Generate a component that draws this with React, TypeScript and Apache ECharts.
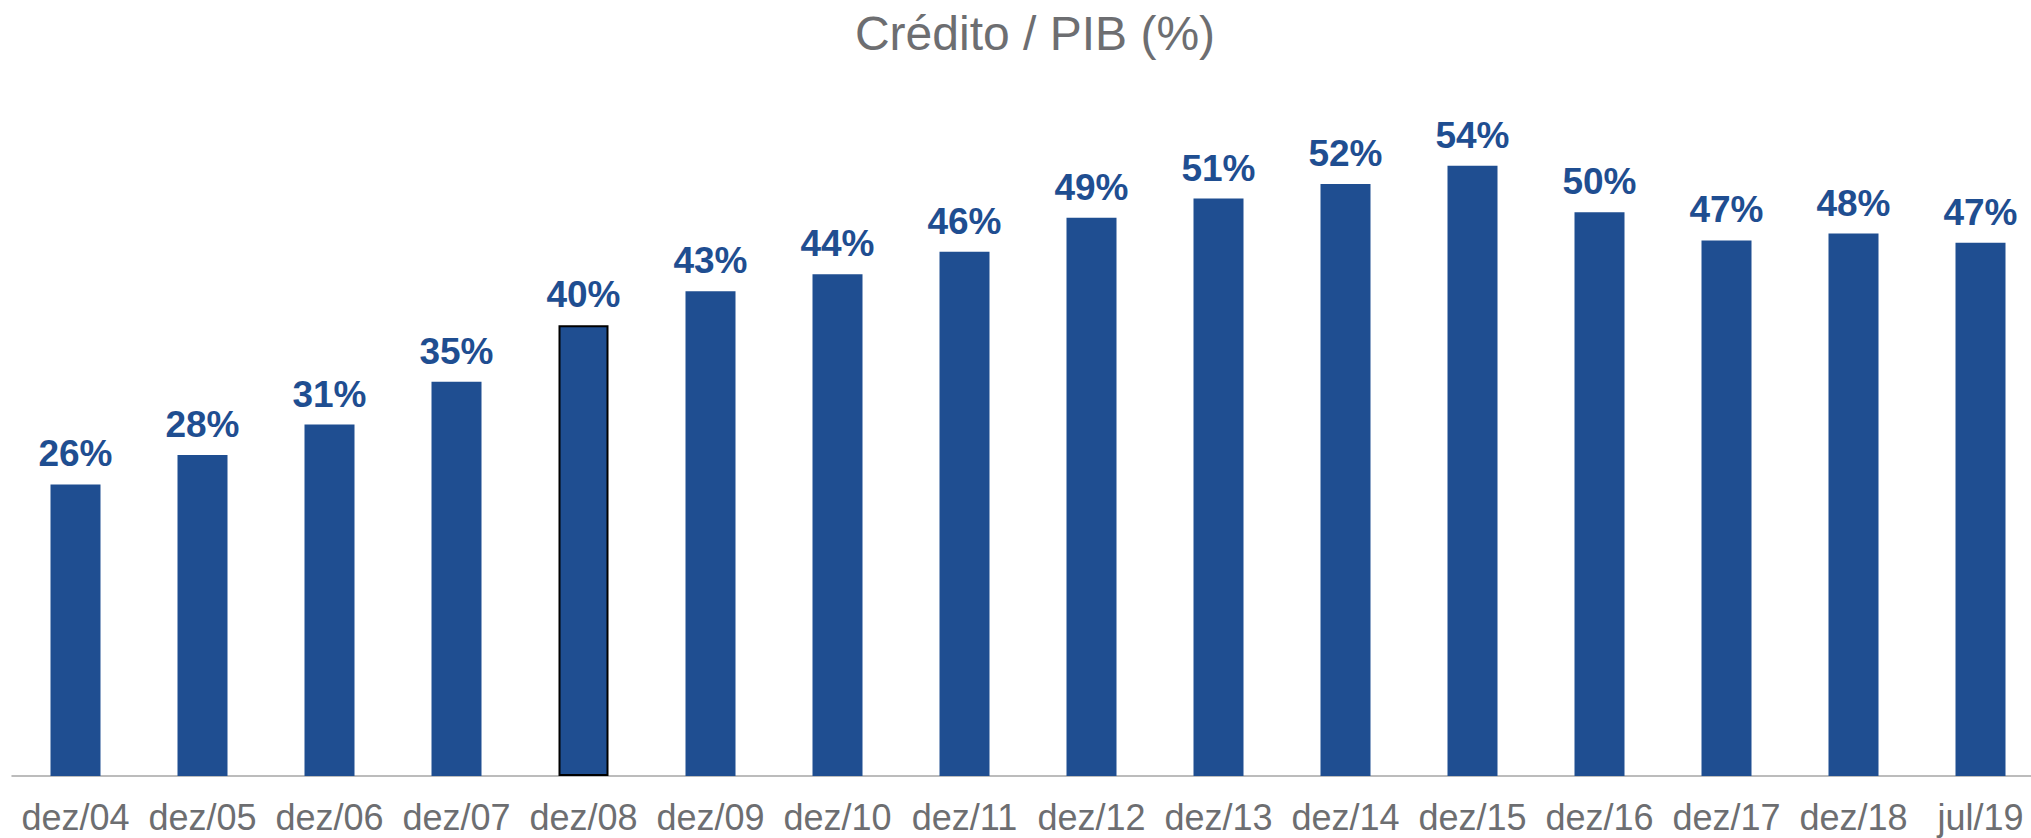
import React, { useEffect, useRef } from "react";
import * as echarts from "echarts";

const categories = ["dez/04", "dez/05", "dez/06", "dez/07", "dez/08", "dez/09", "dez/10", "dez/11", "dez/12", "dez/13", "dez/14", "dez/15", "dez/16", "dez/17", "dez/18", "jul/19"];
const values = [25.8, 28.4, 31.1, 34.9, 39.9, 42.9, 44.4, 46.4, 49.4, 51.1, 52.4, 54.0, 49.9, 47.4, 48.0, 47.2];
const highlighted = ["dez/08"];

const BLUE = "#1F4E91";
const GRAY = "#6D6E71";
const FONT = "'Liberation Sans', Arial, sans-serif";

export default function App() {
  const ref = useRef<HTMLDivElement>(null);
  useEffect(() => {
    if (!ref.current) return;
    const chart = echarts.init(ref.current, undefined, { renderer: "svg" });
    chart.setOption({
      animation: false,
      backgroundColor: "#ffffff",
      title: {
        text: "Crédito / PIB (%)",
        left: 1030,
        textAlign: "center",
        top: 4,
        textStyle: { fontFamily: FONT, fontSize: 48, fontWeight: "normal", color: GRAY },
      },
      grid: { left: 12, right: -13, top: 98, bottom: 62, outerBoundsMode: "none", containLabel: false },
      xAxis: {
        type: "category",
        data: categories,
        axisTick: { show: false },
        axisLine: { lineStyle: { color: "#A6A6A6", width: 1.5 } },
        axisLabel: { fontFamily: FONT, fontSize: 36, lineHeight: 30, color: GRAY, margin: 26, interval: 0, hideOverlap: false },
      },
      yAxis: { type: "value", min: 0, max: 60, show: false, splitLine: { show: false } },
      series: [
        {
          type: "bar",
          barWidth: 50,
          data: values.map((v, i) => ({
            value: v,
            itemStyle: highlighted.includes(categories[i])
              ? { color: BLUE, borderColor: "#000000", borderWidth: 2 }
              : { color: BLUE },
          })),
          label: {
            show: true,
            position: "top",
            distance: 12,
            formatter: (p: any) => Math.round(p.value) + "%",
            fontFamily: FONT,
            fontSize: 37,
            fontWeight: "bold",
            color: BLUE,
          },
        },
      ],
    });
    return () => chart.dispose();
  }, []);
  return <div ref={ref} style={{ position: "absolute", left: 0, top: 0, width: 2031, height: 838 }} />;
}
